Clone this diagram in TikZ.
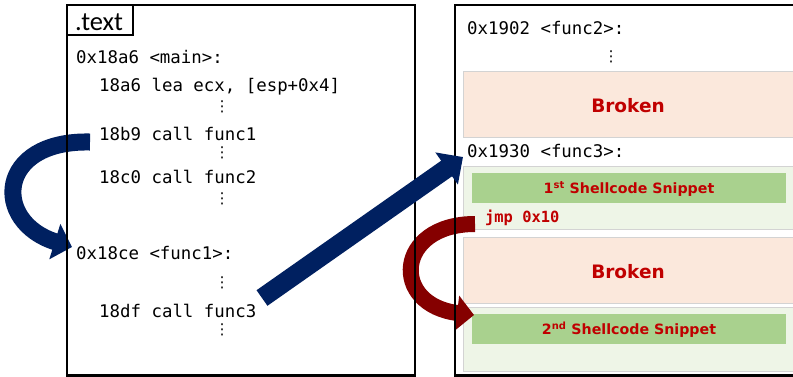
\documentclass[tikz,border=0pt]{standalone}
\usepackage{fontspec}
\setmainfont{DejaVu Sans}
\setmonofont{DejaVu Sans Mono}
\newfontfamily\carlito{Carlito}
\usetikzlibrary{arrows.meta}
\definecolor{navy}{HTML}{002060}
\definecolor{dred}{HTML}{850000}
\definecolor{tred}{HTML}{C00000}
\definecolor{peach}{HTML}{FBE8DC}
\definecolor{lgreen}{HTML}{EEF5E7}
\definecolor{dgreen}{HTML}{A9D18E}
\definecolor{bandline}{HTML}{D3D3D3}
\begin{document}
\begin{tikzpicture}[x=1pt,y=-1pt,
  code/.style={anchor=base west,inner sep=0pt,font=\ttfamily\fontsize{17.4}{20}\selectfont},
  jmpcode/.style={anchor=base west,inner sep=0pt,text=tred,font=\ttfamily\bfseries\fontsize{15.4}{18}\selectfont},
  vdot/.style={inner sep=0pt,font=\fontsize{15}{15}\selectfont},
  brokenband/.style={fill=peach,draw=bandline,line width=0.8pt},
  regionband/.style={fill=lgreen,draw=bandline,line width=0.8pt},
  snippetbar/.style={fill=dgreen,draw=none},
  snippetlbl/.style={text=tred,font=\bfseries\fontsize{14.2}{16}\selectfont,inner sep=0pt},
  brokenlbl/.style={text=tred,font=\bfseries\fontsize{18.5}{20}\selectfont,inner sep=0pt},
  frame/.style={draw=black,line width=2.4pt},
  bluearrow/.style={draw=navy,line width=17pt},
  redarrow/.style={draw=dred,line width=16pt}
]
\useasboundingbox (0,0) rectangle (793,376);
\clip (0,0) rectangle (793,376);
\fill[white] (0,0) rectangle (793,376);

% right box bands
\draw[brokenband] (463,71) rectangle (800,137);
\node[brokenlbl] (brk1) at (628,106) {Broken};
\draw[regionband] (463,166) rectangle (800,229);
\fill[snippetbar] (472,173) rectangle (786,203);
\node[snippetlbl] (snip1) at (629,189) {1\textsuperscript{st} Shellcode Snippet};
\draw[brokenband] (463,237) rectangle (800,303);
\node[brokenlbl] (brk2) at (628,272) {Broken};
\draw[regionband] (463,307) rectangle (800,371);
\fill[snippetbar] (472,314) rectangle (786,344);
\node[snippetlbl] (snip2) at (629,330) {2\textsuperscript{nd} Shellcode Snippet};

% right box text
\node[code] (f2) at (467,34) {0x1902 <func2>:};
\node[vdot] (d6) at (611,57) {⋮};
\node[code] (f3) at (467,157) {0x1930 <func3>:};
\node[jmpcode] (jmp) at (485,222) {jmp 0x10};

% left box text
\node[code] (mainl) at (76,63) {0x18a6 <main>:};
\node[code] (lea) at (99,91) {18a6 lea ecx, [esp+0x4]};
\node[vdot] (d1) at (222,107) {⋮};
\node[code] (call1) at (99,140) {18b9 call func1};
\node[vdot] (d2) at (222,153) {⋮};
\node[code] (call2) at (99,183) {18c0 call func2};
\node[vdot] (d3) at (222,199) {⋮};
\node[code] (func1) at (76,259) {0x18ce <func1>:};
\node[vdot] (d4) at (222,283) {⋮};
\node[code] (call3) at (99,317) {18df call func3};
\node[vdot] (d5) at (222,330) {⋮};

% curved arrows (under the frames)
\coordinate (b1s) at (90,142);
\coordinate (b1e) at (72,247);
\draw[bluearrow,-{Triangle[length=18pt,width=36pt]}] (b1s) .. controls (-4,140) and (-8,222) .. (b1e);
\coordinate (r1s) at (475,224);
\coordinate (r1e) at (474,315);
\draw[redarrow,-{Triangle[length=17pt,width=34pt]}] (r1s) .. controls (395,224) and (390,305) .. (r1e);

% frames
\draw[frame] (67,5) rectangle (415,375.5);
\draw[frame] (67,5) rectangle (133,35);
\node[anchor=base west,inner sep=0pt,font=\carlito\fontsize{26.5}{28}\selectfont] (tab) at (75,30) {.text};
\draw[frame] (455,5) rectangle (810,375.5);

% straight arrow
\coordinate (b2s) at (262,298);
\coordinate (b2e) at (463,157);
\draw[line width=19pt,draw=navy,-{Triangle[length=20pt,width=38pt]}] (b2s) -- (b2e);
\end{tikzpicture}
\end{document}
